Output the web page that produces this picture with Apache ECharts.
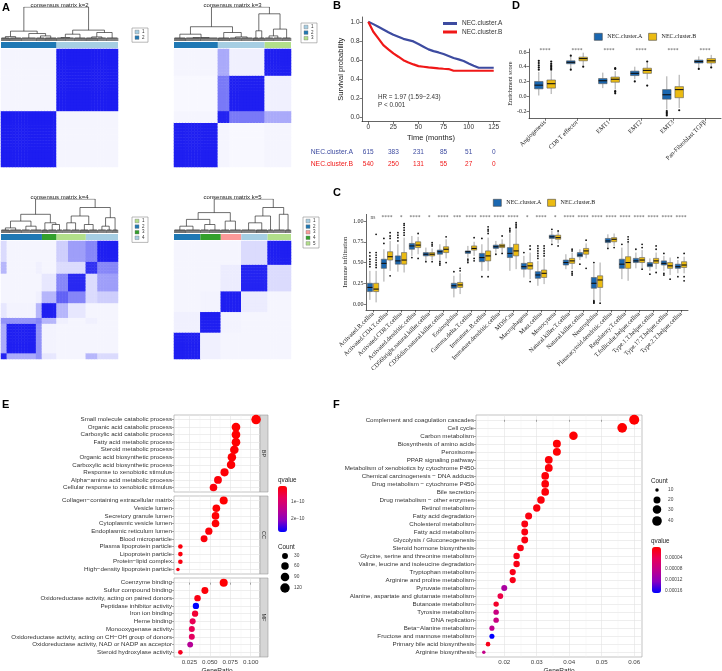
<!DOCTYPE html>
<html>
<head>
<meta charset="utf-8">
<script src="https://cdn.jsdelivr.net/npm/echarts@6/dist/echarts.min.js"></script>
<style>body{margin:0;background:#fff}</style>
</head>
<body>
<div id="main" style="width:722px;height:671px"></div>
<script>
// ---------- A: consensus clustering ----------
var kTitles = ['consensus matrix k=2', 'consensus matrix k=3', 'consensus matrix k=4', 'consensus matrix k=5'];
var barSizes = [[19, 21], [15, 16, 9], [14, 5, 10, 11], [9, 7, 7, 9, 8]];
var barColors = [['#1F78B4', '#A6CEE3'], ['#1F78B4', '#A6CEE3', '#B2DF8A'],
    ['#1F78B4', '#33A02C', '#B2DF8A', '#A6CEE3'], ['#1F78B4', '#33A02C', '#FB9A99', '#A6CEE3', '#B2DF8A']];
var keyColors = [['#A6CEE3', '#1F78B4'], ['#A6CEE3', '#1F78B4', '#B2DF8A'],
    ['#B2DF8A', '#1F78B4', '#33A02C', '#A6CEE3'], ['#A6CEE3', '#1F78B4', '#FB9A99', '#33A02C', '#B2DF8A']];
var blockSizes = [[19, 21], [15, 4, 12, 9], [2, 10, 2, 5, 4, 6, 4, 7], [9, 7, 7, 9, 8]];
var blockLevels = [
    [[0.93, 0.04], [0.04, 0.93]],
    [[0.92, 0.04, 0.03, 0.04], [0.04, 0.90, 0.55, 0.35], [0.03, 0.55, 0.92, 0.06], [0.04, 0.35, 0.06, 0.92]],
    [[0.90, 0.35, 0.45, 0.10, 0.04, 0.04, 0.30, 0.15],
     [0.35, 0.92, 0.45, 0.05, 0.04, 0.04, 0.04, 0.04],
     [0.45, 0.45, 0.50, 0.30, 0.06, 0.04, 0.06, 0.04],
     [0.10, 0.05, 0.30, 0.92, 0.30, 0.10, 0.04, 0.04],
     [0.04, 0.04, 0.06, 0.30, 0.65, 0.50, 0.15, 0.20],
     [0.04, 0.04, 0.04, 0.10, 0.50, 0.88, 0.15, 0.40],
     [0.30, 0.04, 0.06, 0.04, 0.15, 0.15, 0.85, 0.50],
     [0.15, 0.04, 0.04, 0.04, 0.20, 0.40, 0.50, 0.92]],
    [[0.92, 0.06, 0.04, 0.04, 0.04], [0.06, 0.92, 0.05, 0.04, 0.04], [0.04, 0.05, 0.92, 0.08, 0.04],
     [0.04, 0.04, 0.08, 0.90, 0.15], [0.04, 0.04, 0.04, 0.15, 0.92]]
];
// dendrograms: [height, left, right], a number is a group of leaves
var dendros = [
    [1.0, [0.29, [0.13, 3, 4], [0.22, 5, [0.15, 3, 4]]], [0.32, [0.2, [0.1, 3, 3], 4], [0.25, [0.12, 4, 3], 4]]],
    [1.0, [0.42, [0.2, 4, [0.1, 5, 6]], [0.25, 4, [0.12, 4, 4]]], [0.8, [0.3, 2, 2], [0.35, [0.15, 3, 3], 3]]],
    [1.0, [0.55, [0.35, [0.15, 3, 4], [0.2, 3, 4]], [0.3, 2, [0.25, 3, 2]]], [0.75, [0.5, [0.3, 3, 3], [0.25, 3, 3]], [0.45, [0.2, 3, 2], 2]]],
    [1.0, [0.6, [0.4, [0.2, 4, 5], [0.25, 3, 4]], [0.35, 3, 4]], [0.75, [0.5, [0.3, 5, 4], 2], [0.55, 4, 2]]]
];

// ---------- B: survival ----------
var kmTime = [0, 5, 10, 15, 20, 25, 30, 35, 40, 45, 50, 55, 60, 65, 70, 75, 80, 85, 90, 95, 100, 105, 110, 115, 120, 125];
var survA = [1.0, 0.975, 0.947, 0.919, 0.89, 0.863, 0.842, 0.82, 0.807, 0.793, 0.765, 0.737, 0.709, 0.691, 0.677, 0.66, 0.639, 0.618, 0.604, 0.586, 0.561, 0.537, 0.516, 0.516, 0.516, 0.516];
var survB = [1.0, 0.895, 0.825, 0.754, 0.71, 0.667, 0.632, 0.596, 0.572, 0.551, 0.533, 0.526, 0.519, 0.514, 0.509, 0.505, 0.502, 0.484, 0.484, 0.484, 0.484, 0.484, 0.484, 0.484, 0.484, 0.484];
var riskTimes = [0, 25, 50, 75, 100, 125];
var riskA = [615, 383, 231, 85, 51, 0];
var riskB = [540, 250, 131, 55, 27, 0];
var survTicks = [0, 0.2, 0.4, 0.6, 0.8, 1.0];

// ---------- D: signature scores ----------
var sigCats = ['Angiogenesis', 'CD8 T effector', 'EMT1', 'EMT2', 'EMT3', 'Pan-Fibroblast TGFβ'];
var sigA = [[0.01, 0.10, 0.15, 0.20, 0.33], [0.37, 0.44, 0.46, 0.48, 0.54], [0.11, 0.17, 0.21, 0.24, 0.32],
    [0.23, 0.28, 0.31, 0.34, 0.40], [-0.18, -0.04, 0.02, 0.09, 0.27], [0.38, 0.45, 0.47, 0.49, 0.54]];
var sigB = [[0.03, 0.11, 0.17, 0.22, 0.34], [0.42, 0.48, 0.51, 0.53, 0.59], [0.09, 0.19, 0.23, 0.26, 0.34],
    [0.23, 0.31, 0.35, 0.38, 0.45], [-0.16, -0.02, 0.09, 0.13, 0.29], [0.41, 0.45, 0.48, 0.51, 0.56]];
var sigOutA = [[0.36, 0.39, 0.42, 0.45, 0.48], [0.55, 0.36], [], [0.20], [-0.20, -0.22, -0.24, -0.26], [0.37]];
var sigOutB = [[0.36, 0.38, 0.40, 0.42, 0.44, 0.47], [0.40], [0.37, 0.38, 0.04, 0.06, 0.07], [0.47, 0.145], [-0.19], [0.39]];
var sigMarks = ['****', '****', '****', '****', '****', '****'];

// ---------- C: immune infiltration ----------
var immCats = ['Activated.B.cellna', 'Activated.CD4.T.cellna', 'Activated.CD8.T.cellna', 'Activated.dendritic.cellna',
    'CD56bright.natural.killer.cellna', 'CD56dim.natural.killer.cellna', 'Eosinophilna', 'Gamma.delta.T.cellna',
    'Immature..B.cellna', 'Immature.dendritic.cellna', 'MDSCna', 'Macrophagena', 'Mast.cellna', 'Monocytena',
    'Natural.killer.T.cellna', 'Natural.killer.cellna', 'Neutrophilna', 'Plasmacytoid.dendritic.cellna',
    'Regulatory.T.cellna', 'T.follicular.helper.cellna', 'Type.1.T.helper.cellna', 'Type.17.T.helper.cellna', 'Type.2.T.helper.cellna'];
var immA = [[0.05, 0.15, 0.20, 0.25, 0.40], [0.27, 0.43, 0.49, 0.54, 0.66], [0.39, 0.48, 0.52, 0.58, 0.72],
    [0.58, 0.66, 0.70, 0.73, 0.82], [0.52, 0.58, 0.60, 0.62, 0.68], [0.52, 0.60, 0.63, 0.65, 0.72],
    [0.08, 0.19, 0.22, 0.25, 0.34], [0.56, 0.61, 0.63, 0.64, 0.70], [0.40, 0.51, 0.56, 0.61, 0.72],
    [0.62, 0.67, 0.69, 0.71, 0.76], [0.40, 0.56, 0.61, 0.68, 0.85], [0.32, 0.42, 0.45, 0.49, 0.58],
    [0.22, 0.31, 0.35, 0.39, 0.52], [0.74, 0.79, 0.81, 0.83, 0.88], [0.42, 0.47, 0.50, 0.53, 0.60],
    [0.53, 0.57, 0.59, 0.62, 0.66], [0.05, 0.19, 0.25, 0.32, 0.48], [0.68, 0.74, 0.76, 0.79, 0.84],
    [0.30, 0.43, 0.48, 0.54, 0.68], [0.43, 0.50, 0.52, 0.55, 0.62], [0.40, 0.45, 0.47, 0.50, 0.55],
    [0.40, 0.47, 0.49, 0.52, 0.58], [0.37, 0.43, 0.45, 0.48, 0.53]];
var immB = [[0.02, 0.15, 0.18, 0.25, 0.40], [0.40, 0.53, 0.57, 0.63, 0.76], [0.38, 0.48, 0.53, 0.62, 0.80],
    [0.60, 0.68, 0.71, 0.75, 0.81], [0.53, 0.58, 0.60, 0.62, 0.67], [0.55, 0.62, 0.66, 0.69, 0.78],
    [0.12, 0.20, 0.23, 0.26, 0.37], [0.58, 0.65, 0.67, 0.70, 0.75], [0.40, 0.52, 0.58, 0.64, 0.80],
    [0.62, 0.68, 0.70, 0.72, 0.78], [0.42, 0.58, 0.64, 0.72, 0.90], [0.30, 0.42, 0.46, 0.50, 0.62],
    [0.24, 0.32, 0.37, 0.41, 0.55], [0.73, 0.78, 0.80, 0.83, 0.87], [0.42, 0.49, 0.52, 0.55, 0.62],
    [0.55, 0.60, 0.64, 0.67, 0.73], [0.03, 0.20, 0.29, 0.34, 0.50], [0.70, 0.75, 0.78, 0.80, 0.85],
    [0.28, 0.43, 0.50, 0.57, 0.75], [0.43, 0.50, 0.53, 0.56, 0.65], [0.42, 0.49, 0.52, 0.55, 0.62],
    [0.35, 0.43, 0.46, 0.50, 0.56], [0.37, 0.44, 0.47, 0.51, 0.57]];
var immOutA = [[0.45, 0.48, 0.51, 0.54, 0.58, 0.62], [0.73, 0.79], [0.76, 0.80, 0.83, 0.86], [0.56], [0.51],
    [0.47, 0.49, 0.51], [0.39], [0.50, 0.52, 0.54], [0.79, 0.33], [0.60], [0.87, 0.89, 0.91], [0.62],
    [0.55, 0.58, 0.61, 0.64, 0.67, 0.70], [0.90, 0.72], [], [0.48], [0.50, 0.01, 0.02, 0.03, 0.04], [0.67],
    [0.72], [0.66], [0.36], [0.61, 0.35, 0.37], [0.56, 0.33]];
var immOutB = [[0.44, 0.47, 0.50, 0.53, 0.56, 0.59, 0.62, 0.84], [0.79, 0.82, 0.86, 0.34], [0.83, 0.86, 0.89, 0.92, 0.95, 0.97],
    [0.85, 0.55], [0.70, 0.72, 0.74, 0.51], [0.81, 0.50], [0.40, 0.43], [0.80, 0.52, 0.55], [0.85, 0.88, 0.90, 0.93, 0.33],
    [0.82, 0.61], [0.92, 0.94, 0.96, 0.98], [0.66, 0.70, 0.27], [0.58, 0.61, 0.64, 0.67, 0.70], [0.88, 0.70],
    [0.64, 0.66, 0.35, 0.37, 0.39], [0.77, 0.43], [0.01], [0.68], [0.75, 0.78, 0.81], [0.68, 0.72, 0.42],
    [0.66, 0.70, 0.38], [0.30], [0.61, 0.28, 0.33]];
var immMarks = ['ns', '****', '*', '****', '*', '****', '***', '****', '****', '****', '****', '*', '****', '*',
    '****', '****', '****', '****', '****', '****', '****', '****', '****'];

// ---------- E: GO enrichment ----------
var bpTerms = ['Small molecule catabolic process', 'Organic acid catabolic process', 'Carboxylic acid catabolic process',
    'Fatty acid metabolic process', 'Steroid metabolic process', 'Organic acid biosynthetic process',
    'Carboxylic acid biosynthetic process', 'Response to xenobiotic stimulus', 'Alpha−amino acid metabolic process',
    'Cellular response to xenobiotic stimulus'];
var bpRatio = [0.1066, 0.082, 0.082, 0.082, 0.080, 0.077, 0.076, 0.068, 0.060, 0.0545];
var bpCount = [122, 94, 94, 94, 92, 88, 87, 78, 69, 63];
var bpQ = [6e-12, 6.5e-12, 6.5e-12, 7e-12, 8e-12, 9e-12, 9e-12, 1.1e-11, 1.3e-11, 1.5e-11];
var ccTerms = ['Collagen−containing extracellular matrix', 'Vesicle lumen', 'Secretory granule lumen',
    'Cytoplasmic vesicle lumen', 'Endoplasmic reticulum lumen', 'Blood microparticle', 'Plasma lipoprotein particle',
    'Lipoprotein particle', 'Protein−lipid complex', 'High−density lipoprotein particle'];
var ccRatio = [0.067, 0.058, 0.057, 0.057, 0.0488, 0.043, 0.014, 0.014, 0.014, 0.011];
var ccCount = [75, 65, 64, 64, 55, 48, 16, 16, 16, 12];
var ccQ = [7e-12, 8e-12, 9e-12, 9e-12, 1.2e-11, 1.4e-11, 1.6e-11, 1.6e-11, 1.8e-11, 2e-11];
var mfTerms = ['Coenzyme binding', 'Sulfur compound binding', 'Oxidoreductase activity, acting on paired donors',
    'Peptidase inhibitor activity', 'Iron ion binding', 'Heme binding', 'Monooxygenase activity',
    'Oxidoreductase activity, acting on CH−OH group of donors', 'Oxidoreductase activity, NAD or NADP as acceptor',
    'Steroid hydroxylase activity'];
var mfRatio = [0.067, 0.044, 0.035, 0.033, 0.032, 0.029, 0.028, 0.028, 0.026, 0.014];
var mfCount = [75, 49, 39, 37, 36, 32, 31, 31, 29, 16];
var mfQ = [8e-12, 1.2e-11, 2e-11, 2.77e-10, 4.5e-11, 7e-11, 7e-11, 8e-11, 1.55e-10, 3e-11];
var eTicks = [0.025, 0.050, 0.075, 0.100];
var eMinor = [0.0125, 0.0375, 0.0625, 0.0875];
var eCountKeys = [30, 60, 90, 120];
var eQKeys = [1e-10, 2e-10];
var eQLabels = ['1e−10', '2e−10'];

// ---------- F: KEGG enrichment ----------
var keggTerms = ['Complement and coagulation cascades', 'Cell cycle', 'Carbon metabolism', 'Biosynthesis of amino acids',
    'Peroxisome', 'PPAR signaling pathway', 'Metabolism of xenobiotics by cytochrome P450',
    'Chemical carcinogenesis − DNA adducts', 'Drug metabolism − cytochrome P450', 'Bile secretion',
    'Drug metabolism − other enzymes', 'Retinol metabolism', 'Fatty acid degradation', 'Cholesterol metabolism',
    'Fatty acid metabolism', 'Glycolysis / Gluconeogenesis', 'Steroid hormone biosynthesis',
    'Glycine, serine and threonine metabolism', 'Valine, leucine and isoleucine degradation', 'Tryptophan metabolism',
    'Arginine and proline metabolism', 'Pyruvate metabolism', 'Alanine, aspartate and glutamate metabolism',
    'Butanoate metabolism', 'Tyrosine metabolism', 'DNA replication', 'Beta−Alanine metabolism',
    'Fructose and mannose metabolism', 'Primary bile acid biosynthesis', 'Arginine biosynthesis'];
var keggRatio = [0.060, 0.0563, 0.0413, 0.0362, 0.0362, 0.0337, 0.0337, 0.0326, 0.0326, 0.0326, 0.0313, 0.0300,
    0.0275, 0.0263, 0.0263, 0.0263, 0.0250, 0.0238, 0.0238, 0.0226, 0.0226, 0.0200, 0.0188, 0.0175, 0.0175, 0.0175,
    0.0162, 0.0162, 0.0150, 0.0137];
var keggCount = [44, 41, 30, 26, 26, 25, 25, 24, 24, 24, 23, 22, 20, 19, 19, 19, 18, 17, 17, 16, 16, 15, 14, 13, 13, 13, 12, 12, 11, 10];
var keggQ = [1e-6, 2e-6, 3e-6, 3e-6, 3e-6, 4e-6, 4e-6, 5e-6, 5e-6, 5e-6, 6e-6, 7e-6, 8e-6, 9e-6, 9e-6, 9e-6, 1e-5,
    1.1e-5, 1.1e-5, 1.2e-5, 1.2e-5, 1.0e-4, 3.3e-5, 2e-5, 7.5e-5, 7.5e-5, 8.5e-5, 1.67e-4, 1.3e-5, 8e-5];
var fTicks = [0.02, 0.03, 0.04, 0.05, 0.06];
var fMinor = [0.015, 0.025, 0.035, 0.045, 0.055];
var fCountKeys = [10, 20, 30, 40];
var fQKeys = [0.00004, 0.00008, 0.00012, 0.00016];

// ---------- helpers ----------
var SANS = '"Liberation Sans", Arial, sans-serif';
var SERIF = '"Liberation Serif", "Times New Roman", serif';
var BLUE = '#1a67b0', GOLD = '#ebbb12', KM_BLUE = '#3d4ba0', KM_RED = '#f01818';
var QCOLORS = ['#ff0000', '#e8005a', '#c0008c', '#8a00c0', '#0000ff'];

var grids = [], xAxes = [], yAxes = [], extraX = [], series = [], graphics = [];
function addGrid(box, xa, ya) {
    box.containLabel = false;
    box.outerBoundsMode = 'none';
    grids.push(box);
    xa.gridIndex = grids.length - 1;
    ya.gridIndex = grids.length - 1;
    xAxes.push(xa);
    yAxes.push(ya);
    return grids.length - 1;
}
// second x axis used only to draw thin minor grid lines
function minorLines(g, min, max, vals) {
    extraX.push({gridIndex: g, type: 'value', position: 'top', min: min, max: max,
        axisLine: {show: false}, axisLabel: {show: false},
        axisTick: {show: false, customValues: vals}, splitLine: {show: true, lineStyle: {color: '#f0f0f0', width: 0.4}}});
}
function txt(x, y, s, font, color, align, rot) {
    graphics.push({type: 'text', x: x, y: y, rotation: rot || 0, silent: true,
        style: {text: s, font: font, fill: color || '#222', align: align || 'left', verticalAlign: 'middle',
            textAlign: align || 'left', textVerticalAlign: 'middle'}});
}
function blockCells(sizes, levels) {
    var seg = [];
    sizes.forEach(function (s, b) { for (var i = 0; i < s; i++) seg.push(b); });
    var out = [];
    for (var i = 0; i < seg.length; i++)
        for (var j = 0; j < seg.length; j++) out.push([i, j, levels[seg[i]][seg[j]]]);
    return out;
}
function dendroLines(tree) {
    var segs = [], tuft = 0.09;
    function lay(node, x0) {
        if (typeof node === 'number') {
            for (var c = 0.2; c < node; c += 0.34) segs.push([[x0 + c, 0], [x0 + c, tuft]]);
            segs.push([[x0 + 0.2, tuft], [x0 + node - 0.2, tuft]]);
            return {x: x0 + node / 2, h: tuft, w: node};
        }
        var L = lay(node[1], x0), R = lay(node[2], x0 + L.w);
        segs.push([[L.x, L.h], [L.x, node[0]], [R.x, node[0]], [R.x, R.h]]);
        return {x: (L.x + R.x) / 2, h: node[0], w: L.w + R.w};
    }
    lay(tree, 0);
    return segs.map(function (c) { return {coords: c}; });
}
function clusterKey(x, y, colors) {
    graphics.push({type: 'rect', silent: true, shape: {x: x, y: y, width: 16, height: colors.length * 5.6 + 3},
        style: {fill: '#fff', stroke: '#8a8a8a', lineWidth: 0.6}});
    colors.forEach(function (c, i) {
        graphics.push({type: 'rect', silent: true, shape: {x: x + 3, y: y + 2.2 + i * 5.6, width: 4, height: 3.6},
            style: {fill: c, stroke: '#777', lineWidth: 0.4}});
        txt(x + 10, y + 4 + i * 5.6, String(i + 1), '4.5px ' + SANS, '#333');
    });
}
function boxRender(dx, w, fill) {
    return function (params, api) {
        var c = api.value(0);
        var pMin = api.coord([c, api.value(1)]), pQ1 = api.coord([c, api.value(2)]), pMed = api.coord([c, api.value(3)]),
            pQ3 = api.coord([c, api.value(4)]), pMax = api.coord([c, api.value(5)]);
        var x = pMed[0] + dx;
        var ws = {stroke: '#808080', lineWidth: 0.7};
        return {type: 'group', children: [
            {type: 'line', shape: {x1: x, y1: pMax[1], x2: x, y2: pQ3[1]}, style: ws},
            {type: 'line', shape: {x1: x, y1: pQ1[1], x2: x, y2: pMin[1]}, style: ws},
            {type: 'rect', shape: {x: x - w / 2, y: pQ3[1], width: w, height: pQ1[1] - pQ3[1]},
                style: {fill: fill, stroke: '#5a5a5a', lineWidth: 0.6}},
            {type: 'line', shape: {x1: x - w / 2, y1: pMed[1], x2: x + w / 2, y2: pMed[1]}, style: {stroke: '#111', lineWidth: 1.1}}
        ]};
    };
}
function dotRender(dx, r) {
    return function (params, api) {
        var p = api.coord([api.value(0), api.value(1)]);
        return {type: 'circle', shape: {cx: p[0] + dx, cy: p[1], r: r}, style: {fill: '#111'}};
    };
}
function markRender(marks, font) {
    return function (params, api) {
        var p = api.coord([api.value(0), api.value(1)]);
        return {type: 'text', x: p[0], y: p[1], style: {text: marks[params.dataIndex], font: font, fill: '#555',
            align: 'center', verticalAlign: 'middle'}};
    };
}
function flatOut(lists) {
    var out = [];
    lists.forEach(function (l, i) { l.forEach(function (v) { out.push([i, v]); }); });
    return out;
}
function boxData(rows) { return rows.map(function (r, i) { return [i].concat(r); }); }
function sizeE(c) { return 3.5 + 6 * Math.sqrt(Math.max(0, (c - 12) / 110)); }
function sizeF(c) { return 3.5 + 6.5 * Math.sqrt(Math.max(0, (c - 10) / 34)); }
function axisLineStyle() { return {show: true, onZero: false, lineStyle: {color: '#222', width: 0.7}}; }
function tickStyle(vals) { return {show: true, customValues: vals, length: 2.5, lineStyle: {color: '#222', width: 0.6}}; }

// ---------- A ----------
var hmLeft = [1, 174, 1, 174], hmTop = [49, 49, 241, 241];
var cells = [];
for (var ci = 0; ci < 40; ci++) cells.push(String(ci));
var heatSeries = [];
for (var k = 0; k < 4; k++) {
    var L = hmLeft[k], T = hmTop[k];
    var gh = addGrid({left: L, top: T, width: 117, height: 118},
        {type: 'category', data: cells, show: false}, {type: 'category', data: cells, show: false});
    heatSeries.push(series.length);
    series.push({type: 'heatmap', xAxisIndex: gh, yAxisIndex: gh, data: blockCells(blockSizes[k], blockLevels[k]),
        itemStyle: {borderWidth: 0}, silent: true});
    var gb = addGrid({left: L, top: T - 7, width: 117, height: 6},
        {type: 'value', min: 0, max: 40, show: false}, {type: 'category', data: ['c'], show: false});
    barSizes[k].forEach(function (s, j) {
        series.push({type: 'bar', xAxisIndex: gb, yAxisIndex: gb, stack: 'bar' + k, barWidth: '100%', data: [s],
            itemStyle: {color: barColors[k][j]}, silent: true});
    });
    var gd = addGrid({left: L, top: T - 42, width: 117, height: 34},
        {type: 'value', min: 0, max: 40, show: false}, {type: 'value', min: 0, max: 1, show: false});
    series.push({type: 'lines', coordinateSystem: 'cartesian2d', xAxisIndex: gd, yAxisIndex: gd, polyline: true,
        data: dendroLines(dendros[k]), lineStyle: {color: '#222', width: 0.65, opacity: 1}, silent: true});
    txt(L + 58.5, T - 44, kTitles[k], '6px ' + SANS, '#222', 'center');
}
clusterKey(132, 28, keyColors[0]);
clusterKey(301, 23, keyColors[1]);
clusterKey(132, 217, keyColors[2]);
clusterKey(303, 217, keyColors[3]);

// ---------- B ----------
var gB = addGrid({left: 362, top: 17, width: 138, height: 104.5},
    {type: 'value', min: -6.25, max: 131.25, name: 'Time (months)', nameLocation: 'middle', nameGap: 12,
        nameTextStyle: {fontFamily: SANS, fontSize: 7.5, color: '#222'},
        axisLine: axisLineStyle(), axisTick: tickStyle(riskTimes),
        axisLabel: {customValues: riskTimes, fontFamily: SANS, fontSize: 6.5, color: '#333', margin: 2.5},
        splitLine: {show: false}},
    {type: 'value', min: -0.05, max: 1.05, name: 'Survival probability', nameLocation: 'middle', nameGap: 17,
        nameTextStyle: {fontFamily: SANS, fontSize: 7.5, color: '#222'},
        axisLine: axisLineStyle(), axisTick: tickStyle(survTicks),
        axisLabel: {customValues: survTicks, formatter: function (v) { return v.toFixed(1); },
            fontFamily: SANS, fontSize: 6.5, color: '#333', margin: 2.5},
        splitLine: {show: false}});
series.push({name: 'NEC.cluster.A', type: 'line', xAxisIndex: gB, yAxisIndex: gB, symbol: 'none', silent: true,
    data: kmTime.map(function (t, i) { return [t, survA[i]]; }), lineStyle: {color: KM_BLUE, width: 2.2}, itemStyle: {color: KM_BLUE}});
series.push({name: 'NEC.cluster.B', type: 'line', xAxisIndex: gB, yAxisIndex: gB, symbol: 'none', silent: true,
    data: kmTime.map(function (t, i) { return [t, survB[i]]; }), lineStyle: {color: KM_RED, width: 2.2}, itemStyle: {color: KM_RED}});
txt(378, 97, 'HR = 1.97 (1.59−2.43)', '6.3px ' + SANS, '#333');
txt(378, 105, 'P < 0.001', '6.3px ' + SANS, '#333');

var gR = addGrid({left: 362, top: 146, width: 138, height: 24},
    {type: 'value', min: -6.25, max: 131.25, show: false},
    {type: 'category', data: ['NEC.cluster.B', 'NEC.cluster.A'], axisLine: {show: false}, axisTick: {show: false},
        splitLine: {show: false},
        axisLabel: {fontFamily: SANS, fontSize: 6.8, margin: 9,
            color: function (v) { return v === 'NEC.cluster.A' ? KM_BLUE : KM_RED; }}});
[[riskA, 1, KM_BLUE], [riskB, 0, KM_RED]].forEach(function (r) {
    series.push({type: 'custom', xAxisIndex: gR, yAxisIndex: gR, silent: true, encode: {x: 0, y: 1},
        data: riskTimes.map(function (t, i) { return [t, r[1], r[0][i]]; }),
        renderItem: function (params, api) {
            var p = api.coord([api.value(0), api.value(1)]);
            return {type: 'text', x: p[0], y: p[1], style: {text: String(api.value(2)), fill: r[2],
                font: '6.5px ' + SANS, align: 'center', verticalAlign: 'middle'}};
        }});
});

// ---------- D ----------
var dTicks = [-0.2, 0, 0.2, 0.4, 0.6];
var gD = addGrid({left: 529, top: 49, width: 192, height: 69.3},
    {type: 'category', data: sigCats, axisLine: axisLineStyle(),
        axisTick: {show: true, alignWithLabel: true, length: 2.5, lineStyle: {color: '#222', width: 0.6}},
        axisLabel: {interval: 0, rotate: 45, fontFamily: SERIF, fontSize: 6.3, color: '#222', margin: 3}, splitLine: {show: false}},
    {type: 'value', min: -0.299, max: 0.64, name: 'Enrichment score', nameLocation: 'middle', nameGap: 13,
        nameTextStyle: {fontFamily: SERIF, fontSize: 6.3, color: '#222'},
        axisLine: axisLineStyle(), axisTick: tickStyle(dTicks),
        axisLabel: {customValues: dTicks, formatter: function (v) { return v.toFixed(1); },
            fontFamily: SERIF, fontSize: 6, color: '#222', margin: 2.5},
        splitLine: {show: false}});
series.push({name: 'NEC.cluster.A', type: 'custom', xAxisIndex: gD, yAxisIndex: gD, silent: true,
    encode: {x: 0, y: [1, 2, 3, 4, 5]}, data: boxData(sigA), renderItem: boxRender(-6.2, 8.5, BLUE), itemStyle: {color: BLUE}});
series.push({name: 'NEC.cluster.B', type: 'custom', xAxisIndex: gD, yAxisIndex: gD, silent: true,
    encode: {x: 0, y: [1, 2, 3, 4, 5]}, data: boxData(sigB), renderItem: boxRender(6.2, 8.5, GOLD), itemStyle: {color: GOLD}});
series.push({type: 'custom', xAxisIndex: gD, yAxisIndex: gD, silent: true, encode: {x: 0, y: 1},
    data: flatOut(sigOutA), renderItem: dotRender(-6.2, 1.1)});
series.push({type: 'custom', xAxisIndex: gD, yAxisIndex: gD, silent: true, encode: {x: 0, y: 1},
    data: flatOut(sigOutB), renderItem: dotRender(6.2, 1.1)});
series.push({type: 'custom', xAxisIndex: gD, yAxisIndex: gD, silent: true, encode: {x: 0, y: 1},
    data: sigCats.map(function (c, i) { return [i, 0.622]; }), renderItem: markRender(sigMarks, '5.5px ' + SERIF)});

// ---------- C ----------
var cTicks = [0, 0.25, 0.5, 0.75, 1.0];
var gC = addGrid({left: 366, top: 214.4, width: 322, height: 95.6},
    {type: 'category', data: immCats, axisLine: axisLineStyle(),
        axisTick: {show: true, alignWithLabel: true, length: 2.5, lineStyle: {color: '#222', width: 0.6}},
        axisLabel: {interval: 0, rotate: 45, fontFamily: SERIF, fontSize: 6.3, color: '#222', margin: 3}, splitLine: {show: false}},
    {type: 'value', min: -0.072, max: 1.08, name: 'Immune infiltration', nameLocation: 'middle', nameGap: 16,
        nameTextStyle: {fontFamily: SERIF, fontSize: 6.5, color: '#222'},
        axisLine: axisLineStyle(), axisTick: tickStyle(cTicks),
        axisLabel: {customValues: cTicks, formatter: function (v) { return v.toFixed(2); },
            fontFamily: SERIF, fontSize: 6, color: '#222', margin: 2.5},
        splitLine: {show: false}});
series.push({name: 'NEC.cluster.A', type: 'custom', xAxisIndex: gC, yAxisIndex: gC, silent: true,
    encode: {x: 0, y: [1, 2, 3, 4, 5]}, data: boxData(immA), renderItem: boxRender(-3.1, 5.2, BLUE), itemStyle: {color: BLUE}});
series.push({name: 'NEC.cluster.B', type: 'custom', xAxisIndex: gC, yAxisIndex: gC, silent: true,
    encode: {x: 0, y: [1, 2, 3, 4, 5]}, data: boxData(immB), renderItem: boxRender(3.1, 5.2, GOLD), itemStyle: {color: GOLD}});
series.push({type: 'custom', xAxisIndex: gC, yAxisIndex: gC, silent: true, encode: {x: 0, y: 1},
    data: flatOut(immOutA), renderItem: dotRender(-3.1, 0.9)});
series.push({type: 'custom', xAxisIndex: gC, yAxisIndex: gC, silent: true, encode: {x: 0, y: 1},
    data: flatOut(immOutB), renderItem: dotRender(3.1, 0.9)});
series.push({type: 'custom', xAxisIndex: gC, yAxisIndex: gC, silent: true, encode: {x: 0, y: 1},
    data: immCats.map(function (c, i) { return [i, 1.04]; }), renderItem: markRender(immMarks, '5.5px ' + SERIF)});

// ---------- E ----------
var eFacets = [
    {terms: bpTerms, ratio: bpRatio, count: bpCount, q: bpQ, top: 415, h: 77, tag: 'BP'},
    {terms: ccTerms, ratio: ccRatio, count: ccCount, q: ccQ, top: 496, h: 78, tag: 'CC'},
    {terms: mfTerms, ratio: mfRatio, count: mfCount, q: mfQ, top: 578, h: 79, tag: 'MF'}
];
var eSeries = [];
var gridLine = {show: true, lineStyle: {color: '#e2e2e2', width: 0.6}};
eFacets.forEach(function (f, fi) {
    var last = fi === 2;
    var rows = f.terms.map(function (t, i) { return i; });
    var g = addGrid({left: 174, top: f.top, width: 86, height: f.h, show: true, borderColor: '#9a9a9a', borderWidth: 0.6, backgroundColor: '#fff'},
        {type: 'value', min: 0.0062, max: 0.1114, name: last ? 'GeneRatio' : '', nameLocation: 'middle', nameGap: 10.5,
            nameTextStyle: {fontFamily: SANS, fontSize: 6.5, color: '#222'},
            axisLine: {show: false}, axisTick: {show: last, customValues: eTicks, length: 2, lineStyle: {color: '#555', width: 0.5}},
            axisLabel: {show: last, customValues: eTicks, formatter: function (v) { return v.toFixed(3); },
                fontFamily: SANS, fontSize: 6.2, color: '#444', margin: 2.5},
            splitLine: gridLine},
        {type: 'value', inverse: true, min: -0.6, max: f.terms.length - 0.4, axisLine: {show: false},
            axisTick: {show: true, customValues: rows, length: 2, lineStyle: {color: '#555', width: 0.5}},
            axisLabel: {customValues: rows, formatter: function (v) { return f.terms[Math.round(v)]; },
                fontFamily: SANS, fontSize: 6.2, color: '#333', margin: 2},
            splitLine: gridLine});
    minorLines(g, 0.0062, 0.1114, eMinor);
    eSeries.push(series.length);
    series.push({type: 'scatter', xAxisIndex: g, yAxisIndex: g, silent: true, z: 3,
        data: f.ratio.map(function (r, i) { return [r, i, f.q[i], f.count[i]]; }),
        symbolSize: function (v) { return sizeE(v[3]); }, itemStyle: {opacity: 1, borderWidth: 0}});
    graphics.push({type: 'rect', silent: true, shape: {x: 260, y: f.top, width: 8, height: f.h},
        style: {fill: '#d6d6d6', stroke: '#9a9a9a', lineWidth: 0.6}});
    txt(264, f.top + f.h / 2, f.tag, '5.5px ' + SANS, '#333', 'center', -Math.PI / 2);
});
var allEQ = bpQ.concat(ccQ, mfQ);
var qMinE = Math.min.apply(null, allEQ), qMaxE = Math.max.apply(null, allEQ);

// ---------- F ----------
var fRows = keggTerms.map(function (t, i) { return i; });
var gF = addGrid({left: 476, top: 415, width: 166, height: 242, show: true, borderColor: '#9a9a9a', borderWidth: 0.6, backgroundColor: '#fff'},
    {type: 'value', min: 0.0113, max: 0.0624, name: 'GeneRatio', nameLocation: 'middle', nameGap: 10.5,
        nameTextStyle: {fontFamily: SANS, fontSize: 6.5, color: '#222'},
        axisLine: {show: false}, axisTick: {show: true, customValues: fTicks, length: 2, lineStyle: {color: '#555', width: 0.5}},
        axisLabel: {customValues: fTicks, formatter: function (v) { return v.toFixed(2); },
            fontFamily: SANS, fontSize: 6.2, color: '#444', margin: 2.5},
        splitLine: gridLine},
    {type: 'value', inverse: true, min: -0.6, max: keggTerms.length - 0.4, axisLine: {show: false},
        axisTick: {show: true, customValues: fRows, length: 2, lineStyle: {color: '#555', width: 0.5}},
        axisLabel: {customValues: fRows, formatter: function (v) { return keggTerms[Math.round(v)]; },
            fontFamily: SANS, fontSize: 6.2, color: '#333', margin: 2},
        splitLine: gridLine});
minorLines(gF, 0.0113, 0.0624, fMinor);
var fSeries = series.length;
series.push({type: 'scatter', xAxisIndex: gF, yAxisIndex: gF, silent: true, z: 3,
    data: keggRatio.map(function (r, i) { return [r, i, keggQ[i], keggCount[i]]; }),
    symbolSize: function (v) { return sizeF(v[3]); }, itemStyle: {opacity: 1, borderWidth: 0}});
var qMinF = Math.min.apply(null, keggQ), qMaxF = Math.max.apply(null, keggQ);

// legends for E and F
txt(278, 480, 'qvalue', '6.3px ' + SANS, '#222');
eQKeys.forEach(function (q, i) {
    txt(291, 486 + (q - qMinE) / (qMaxE - qMinE) * 46, eQLabels[i], '4.8px ' + SANS, '#444');
});
txt(278, 547, 'Count', '6.3px ' + SANS, '#222');
var eKeyY = [556, 566, 577, 588];
eCountKeys.forEach(function (c, i) {
    graphics.push({type: 'circle', silent: true, shape: {cx: 285, cy: eKeyY[i], r: sizeE(c) / 2}, style: {fill: '#000'}});
    txt(294, eKeyY[i], String(c), '4.8px ' + SANS, '#444');
});
txt(651, 481, 'Count', '6.3px ' + SANS, '#222');
var fKeyY = [490, 500, 509.5, 521];
fCountKeys.forEach(function (c, i) {
    graphics.push({type: 'circle', silent: true, shape: {cx: 657, cy: fKeyY[i], r: sizeF(c) / 2}, style: {fill: '#000'}});
    txt(668, fKeyY[i], String(c), '4.8px ' + SANS, '#444');
});
txt(651, 541, 'qvalue', '6.3px ' + SANS, '#222');
fQKeys.forEach(function (q) {
    txt(665, 547 + (q - qMinF) / (qMaxF - qMinF) * 46, q.toFixed(5), '4.8px ' + SANS, '#444');
});

// panel letters
[['A', 2, 8], ['B', 333, 6], ['D', 512, 6], ['C', 333, 193], ['E', 2, 405], ['F', 333, 405]].forEach(function (p) {
    txt(p[1], p[2], p[0], 'bold 11px ' + SANS, '#000');
});

var chart = echarts.init(document.getElementById('main'));
chart.setOption({
    animation: false,
    backgroundColor: '#fff',
    textStyle: {fontFamily: SANS},
    grid: grids,
    xAxis: xAxes.concat(extraX),
    yAxis: yAxes,
    visualMap: [
        {type: 'continuous', show: false, seriesIndex: heatSeries, dimension: 2, min: 0, max: 1,
            inRange: {color: ['#ffffff', '#0c0cf0']}},
        {type: 'continuous', show: true, seriesIndex: eSeries, dimension: 2, min: qMinE, max: qMaxE, inverse: true,
            calculable: false, text: null, padding: 0, left: 278, top: 486, itemWidth: 9, itemHeight: 46,
            inRange: {color: QCOLORS}},
        {type: 'continuous', show: true, seriesIndex: [fSeries], dimension: 2, min: qMinF, max: qMaxF, inverse: true,
            calculable: false, text: null, padding: 0, left: 652, top: 547, itemWidth: 9, itemHeight: 46,
            inRange: {color: QCOLORS}}
    ],
    legend: [
        {left: 443, top: 20, orient: 'vertical', padding: 0, itemGap: 1.5, itemWidth: 14, itemHeight: 3, selectedMode: false,
            textStyle: {fontFamily: SANS, fontSize: 6.5, color: '#333'},
            data: [{name: 'NEC.cluster.A', icon: 'rect', itemStyle: {color: KM_BLUE}},
                {name: 'NEC.cluster.B', icon: 'rect', itemStyle: {color: KM_RED}}]},
        {left: 594, top: 33, orient: 'horizontal', padding: 0, itemGap: 6, itemWidth: 8, itemHeight: 7, selectedMode: false,
            textStyle: {fontFamily: SERIF, fontSize: 6, color: '#222'},
            data: [{name: 'NEC.cluster.A', icon: 'rect', itemStyle: {color: BLUE, borderColor: '#444', borderWidth: 0.6}},
                {name: 'NEC.cluster.B', icon: 'rect', itemStyle: {color: GOLD, borderColor: '#444', borderWidth: 0.6}}]},
        {left: 493, top: 199, orient: 'horizontal', padding: 0, itemGap: 6, itemWidth: 8, itemHeight: 7, selectedMode: false,
            textStyle: {fontFamily: SERIF, fontSize: 6, color: '#222'},
            data: [{name: 'NEC.cluster.A', icon: 'rect', itemStyle: {color: BLUE, borderColor: '#444', borderWidth: 0.6}},
                {name: 'NEC.cluster.B', icon: 'rect', itemStyle: {color: GOLD, borderColor: '#444', borderWidth: 0.6}}]}
    ],
    series: series,
    graphic: {elements: graphics}
});
</script>
</body>
</html>
